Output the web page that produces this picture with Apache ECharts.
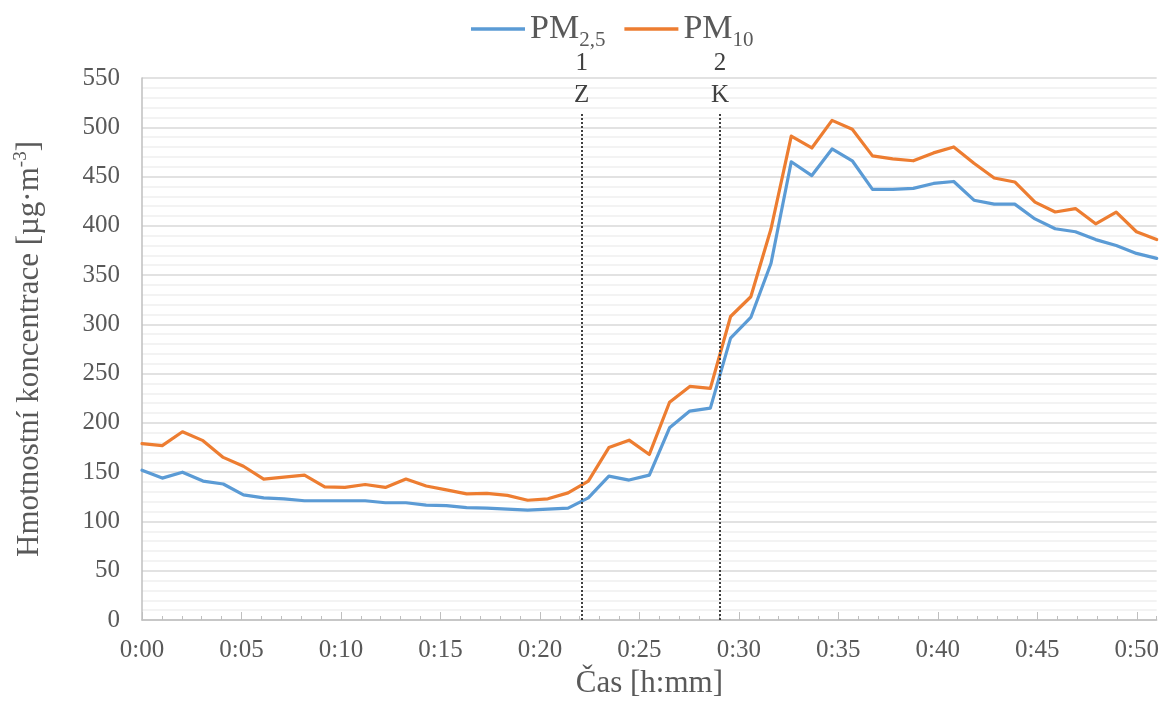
<!DOCTYPE html>
<html>
<head>
<meta charset="utf-8">
<script src="https://cdn.jsdelivr.net/npm/echarts@6/dist/echarts.min.js"></script>
<style>html,body{margin:0;padding:0;background:#fff;}#c{width:1162px;height:707px;}</style>
</head>
<body>
<div id="c"></div>
<script>
// sample times in seconds from start
const timesSec = [0, 61, 122, 184, 245, 306, 367, 428, 490, 551, 612, 673, 734, 796, 857, 918, 979, 1040, 1102, 1163, 1224, 1285, 1346, 1408, 1469, 1530, 1591, 1652, 1714, 1775, 1836, 1897, 1958, 2020, 2081, 2142, 2203, 2264, 2326, 2387, 2448, 2509, 2570, 2632, 2693, 2754, 2815, 2876, 2938, 2999, 3060];
const pm25 = [152, 144, 150, 141, 138, 127, 124, 123, 121, 121, 121, 121, 119, 119, 116.5, 116, 114, 113.5, 112.5, 111.5, 112.5, 113.5, 124, 146, 142, 147, 195, 212, 215, 286, 307, 362, 465, 451, 478, 466, 437, 437, 438, 443, 445, 426, 422, 422, 407, 397, 394, 386, 380, 372, 367];
const pm10 = [179, 177, 191, 182, 165, 156, 143, 145, 147, 135, 134.5, 137.5, 134.5, 143, 136, 132, 128, 128.5, 126.5, 121.5, 123, 129, 141, 175, 182.5, 168, 221, 237, 235, 308, 328, 397, 491, 479, 507, 498, 471, 468, 466, 474, 480, 463.5, 448.5, 444.5, 424, 414, 417.5, 402, 414, 394, 386];
const seriesNames = ['PM2.5', 'PM10'];
const markerTimes = [22.1, 29.05]; // minutes
const markerLabels = ['1\nZ', '2\nK'];
const markerTop = 515;
const yTicks = [0, 550, 50];

const FONT = 'Liberation Serif';
const toPairs = arr => arr.map((v, i) => [timesSec[i] / 60, v]);
const fmtTime = m => { const mm = Math.round(m); return '0:' + (mm < 10 ? '0' + mm : mm); };

const chart = echarts.init(document.getElementById('c'), null, {renderer: 'canvas'});
chart.setOption({
  backgroundColor: '#fff',
  animation: false,
  textStyle: {fontFamily: FONT},
  legend: {
    top: 7, left: 466,
    itemWidth: 54, itemHeight: 3.5, itemGap: 19,
    icon: 'rect',
    data: seriesNames,
    formatter: n => n === 'PM2.5' ? '{m|PM}{s|2,5}' : '{m|PM}{s|10}',
    textStyle: {
      color: '#595959', fontFamily: FONT,
      rich: {
        m: {fontSize: 34, fontFamily: FONT, color: '#595959'},
        s: {fontSize: 21, fontFamily: FONT, color: '#595959', padding: [22, 0, 0, 0]}
      }
    }
  },
  grid: {left: 142, right: 5, top: 78, bottom: 87, containLabel: false},
  xAxis: [{
    type: 'value', min: 0, max: 51, interval: 5,
    axisLine: {show: true, lineStyle: {color: '#bfbfbf', width: 1.5}},
    axisTick: {show: true, inside: true, length: 8, lineStyle: {color: '#bfbfbf'}},
    axisLabel: {fontSize: 25, color: '#595959', fontFamily: FONT, margin: 18, showMaxLabel: false, formatter: fmtTime},
    splitLine: {show: false},
    name: 'Čas [h:mm]', nameLocation: 'middle', nameGap: 48,
    nameTextStyle: {fontSize: 31, color: '#595959', fontFamily: FONT}
  }, {
    type: 'value', min: 0, max: 51, interval: 1, position: 'bottom',
    axisLine: {show: false},
    axisTick: {show: true, inside: true, length: 4, lineStyle: {color: '#bfbfbf'}},
    axisLabel: {show: false},
    splitLine: {show: false}
  }],
  yAxis: {
    type: 'value', min: yTicks[0], max: yTicks[1], interval: yTicks[2],
    axisLine: {show: true, lineStyle: {color: '#bfbfbf', width: 1.5}},
    axisTick: {show: false},
    axisLabel: {fontSize: 25, color: '#595959', fontFamily: FONT, margin: 22},
    splitLine: {show: true, lineStyle: {color: '#d9d9d9', width: 1.5}},
    minorTick: {show: false, splitNumber: 5},
    minorSplitLine: {show: true, lineStyle: {color: '#f0f0f0', width: 1.5}},
    name: 'Hmotnostní koncentrace [µg·m{sup|-3}]', nameLocation: 'middle', nameGap: 95, nameRotate: 90,
    nameTextStyle: {fontSize: 31, color: '#595959', fontFamily: FONT,
      rich: {sup: {fontSize: 19, color: '#595959', fontFamily: FONT, padding: [0, 0, 16, 0]}}}
  },
  series: [{
    name: seriesNames[0], type: 'line', data: toPairs(pm25), showSymbol: false, symbol: 'none',
    lineStyle: {color: '#5B9BD5', width: 3.2, cap: 'round', join: 'round'}, itemStyle: {color: '#5B9BD5'},
    z: 3,
    markLine: {
      silent: true, symbol: 'none',
      lineStyle: {type: 'dotted', color: '#404040', width: 2},
      label: {show: true, position: 'end', fontSize: 25, lineHeight: 32, color: '#404040', fontFamily: FONT, distance: 1,
        formatter: p => p.data && p.data.name !== undefined ? p.data.name : ''},
      data: markerTimes.map((t, i) => [
        {coord: [t, 0], name: markerLabels[i]},
        {coord: [t, markerTop]}
      ])
    }
  }, {
    name: seriesNames[1], type: 'line', data: toPairs(pm10), showSymbol: false, symbol: 'none',
    lineStyle: {color: '#ED7D31', width: 3.2, cap: 'round', join: 'round'}, itemStyle: {color: '#ED7D31'},
    z: 4
  }]
});
</script>
</body>
</html>
